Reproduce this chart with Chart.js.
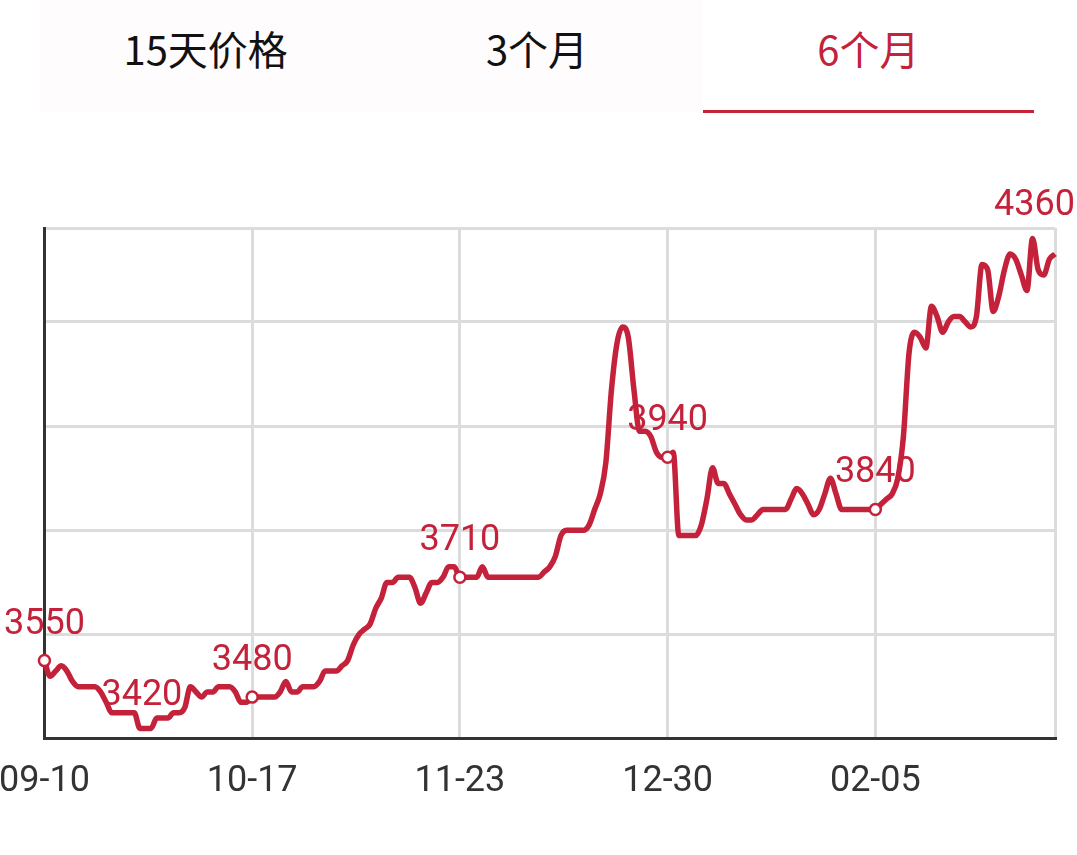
<!DOCTYPE html>
<html>
<head>
<meta charset="utf-8">
<title>6个月价格走势</title>
<script src="https://cdn.jsdelivr.net/npm/chart.js@4.4.0/dist/chart.umd.min.js"></script>
<style>
  html, body { margin: 0; padding: 0; background: #fff; }
  body { width: 1077px; height: 855px; position: relative; overflow: hidden; font-family: "Noto Sans CJK SC", sans-serif; }
  .tabs { position: absolute; left: 40px; top: 0; width: 994px; height: 113px; display: flex; }
  .tab { flex: 1; height: 113px; line-height: 96px; text-align: center; font-size: 40px; color: #111; background: #fffcfd; position: relative; }
  .tab.active { color: #c4213b; background: #fff; }
  .tab.active:after { content: ""; position: absolute; left: 0; right: 0; bottom: 0; height: 3px; background: #c4213b; }
  #wrap { position: absolute; left: -23px; top: 130px; width: 1100px; height: 700px; }
</style>
</head>
<body>
<div class="tabs">
  <div class="tab">15天价格</div>
  <div class="tab">3个月</div>
  <div class="tab active">6个月</div>
</div>
<div id="wrap"><canvas id="price-chart"></canvas></div>

<script>
  var RED = "#c4213b";

  // daily prices, 09-10 .. 03-09
  var prices = [
    3550, 3520, 3530, 3540, 3530, 3510, 3500, 3500, 3500, 3500,
    3490, 3470, 3450, 3450, 3450, 3450, 3450, 3420, 3420, 3420,
    3440, 3440, 3440, 3450, 3450, 3460, 3500, 3490, 3480, 3490,
    3490, 3500, 3500, 3500, 3490, 3470, 3470, 3480, 3480, 3480,
    3480, 3480, 3490, 3510, 3490, 3490, 3500, 3500, 3500, 3510,
    3530, 3530, 3530, 3540, 3550, 3580, 3600, 3610, 3620, 3650,
    3670, 3700, 3700, 3710, 3710, 3710, 3690, 3660, 3680, 3700,
    3700, 3710, 3730, 3730, 3710, 3710, 3710, 3710, 3730, 3710,
    3710, 3710, 3710, 3710, 3710, 3710, 3710, 3710, 3710, 3720,
    3730, 3750, 3790, 3800, 3800, 3800, 3800, 3810, 3840, 3870,
    3930, 4070, 4160, 4190, 4170, 4070, 3990, 3990, 3980, 3950,
    3940, 3940, 3950, 3790, 3790, 3790, 3790, 3810, 3860, 3920,
    3890, 3890, 3870, 3850, 3830, 3820, 3820, 3830, 3840, 3840,
    3840, 3840, 3840, 3860, 3880, 3870, 3850, 3830, 3840, 3870,
    3900, 3870, 3840, 3840, 3840, 3840, 3840, 3840, 3840, 3850,
    3860, 3870, 3900, 3980, 4140, 4180, 4170, 4150, 4230, 4210,
    4180, 4200, 4210, 4210, 4200, 4190, 4210, 4310, 4300, 4220,
    4250, 4300, 4330, 4320, 4290, 4260, 4360, 4300, 4290, 4320,
    4330
  ];

  // points that get a circle + value label (same days as the x ticks)
  var markedIdx = [0, 37, 74, 111, 148];
  var tickEvery = 37;
  var yTicks = [3400, 3600, 3800, 4000, 4200, 4380];

  function pad(n) { return n < 10 ? "0" + n : "" + n; }

  var days = [];
  for (var i = 0; i < prices.length; i++) {
    var d = new Date(2018, 8, 10 + i);
    days.push(pad(d.getMonth() + 1) + "-" + pad(d.getDate()));
  }

  var minIdx = prices.indexOf(Math.min.apply(null, prices));
  var maxIdx = prices.indexOf(Math.max.apply(null, prices));

  // value labels above marked points, min and max
  var valueLabels = {
    id: "valueLabels",
    afterDatasetsDraw: function (chart) {
      var ctx = chart.ctx;
      var meta = chart.getDatasetMeta(0);
      ctx.save();
      ctx.font = "36px Roboto";
      ctx.fillStyle = RED;
      ctx.textAlign = "center";
      ctx.textBaseline = "alphabetic";
      markedIdx.forEach(function (i) {
        var pt = meta.data[i];
        ctx.fillText(prices[i], pt.x, pt.y - 27);
      });
      [minIdx, maxIdx].forEach(function (i) {
        var pt = meta.data[i];
        ctx.fillText(prices[i], pt.x + 2, pt.y - 23);
      });
      ctx.restore();
    }
  };

  var gridColor = function (c) {
    return c.index === 0 ? "rgba(0,0,0,0)" : "#dcdcdc";
  };

  var ctx1 = document.getElementById("price-chart").getContext("2d");
  var myChart1 = new Chart(ctx1, {
    type: "line",
    data: {
      labels: days,
      datasets: [
        {
          data: prices,
          borderColor: RED,
          borderWidth: 5.5,
          tension: 0.4,
          cubicInterpolationMode: "monotone",
          fill: false,
          clip: false,
          pointRadius: function (c) { return markedIdx.indexOf(c.dataIndex) >= 0 ? 5.5 : 0; },
          pointBackgroundColor: "#fff",
          pointBorderColor: RED,
          pointBorderWidth: 2.5,
        },
      ],
    },
    options: {
      responsive: true,
      maintainAspectRatio: false,
      animation: false,
      layout: { padding: { left: 66, right: 21, top: 98, bottom: 4 } },
      plugins: { legend: { display: false }, tooltip: { enabled: false } },
      scales: {
        x: {
          type: "category",
          grid: { color: gridColor, lineWidth: 3, drawTicks: false },
          border: { color: "#333", width: 3 },
          ticks: {
            autoSkip: false,
            maxRotation: 0,
            padding: 22,
            color: "#333",
            font: { family: "Roboto", size: 36 },
            callback: function (val, i) {
              if (i % tickEvery === 0) return this.getLabelForValue(val);
              if (i === prices.length - 1) return "";
              return null;
            },
          },
        },
        y: {
          min: 3400,
          max: 4380,
          afterBuildTicks: function (scale) {
            scale.ticks = yTicks.map(function (v) { return { value: v }; });
          },
          grid: { color: gridColor, lineWidth: 3, drawTicks: false },
          border: { color: "#333", width: 3 },
          ticks: { display: false },
        },
      },
    },
    plugins: [valueLabels],
  });
</script>
</body>
</html>
